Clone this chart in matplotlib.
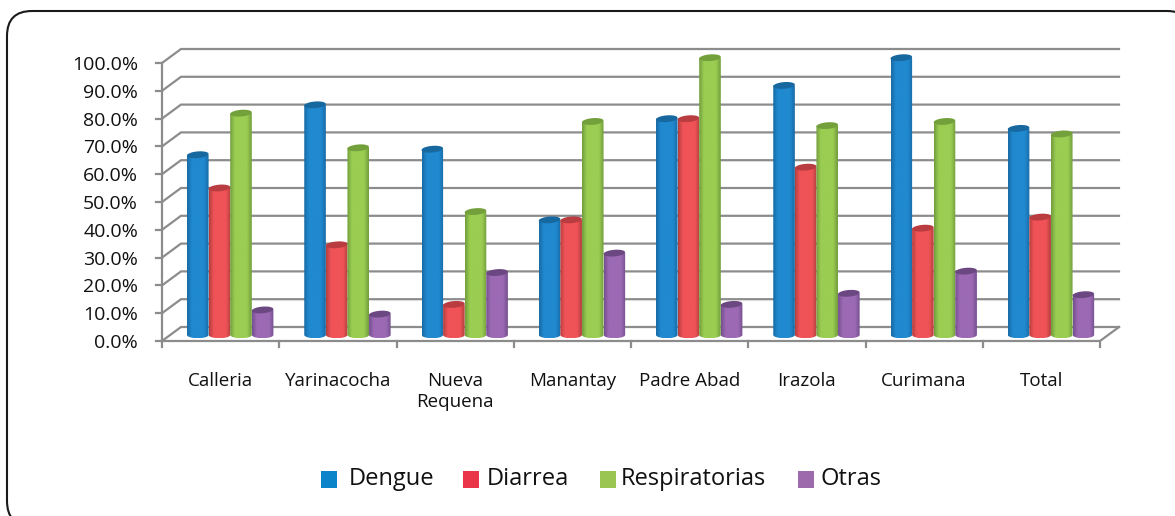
import numpy as np  # For the gradients and the ellipse outlines.
import matplotlib
matplotlib.use("Agg")
import matplotlib.pyplot as plt  # For creating plots.
from matplotlib.colors import LinearSegmentedColormap
from matplotlib.patches import FancyBboxPatch, PathPatch, Polygon, Rectangle
from matplotlib.path import Path

plt.rcParams['font.family'] = ['Open Sans', 'DejaVu Sans']

# --------------------
# Values.
categories = ['Calleria', 'Yarinacocha', 'Nueva\nRequena', 'Manantay',
              'Padre Abad', 'Irazola', 'Curimana', 'Total']
dengue = [65.0, 83.0, 67.0, 41.5, 78.0, 90.0, 100.0, 74.5]
diarrea = [53.0, 32.5, 11.0, 41.5, 78.0, 60.5, 38.5, 42.5]
respiratorias = [80.0, 67.5, 44.5, 77.0, 100.0, 75.5, 77.0, 72.5]
otras = [9.0, 7.5, 22.5, 29.5, 11.0, 15.0, 23.0, 14.5]
series_names = ['Dengue', 'Diarrea', 'Respiratorias', 'Otras']
y_ticks = [0, 10, 20, 30, 40, 50, 60, 70, 80, 90, 100]

# Mid colour, dark edge and top cap of each series.
colors = ['#2089cf', '#f05357', '#9acd52', '#9c6ab4']
dark_colors = ['#186ca6', '#b5403f', '#739d3d', '#765090']
cap_colors = ['#17689f', '#b83c40', '#74a03c', '#6c4882']
legend_colors = ['#0b84c9', '#ea3448', '#9bc552', '#9d6aab']

GRID = '#8c8c8c'
# Fake 3D depth of the chart box, in data units.
DEPTH_X = 19 / 117.25
DEPTH_Y = 14 / 2.78
BASE_Y = 2.2     # bars stand in the middle of the floor
BAR_W = 21.6 / 117.25
GROUP_START = 25 / 117.25
CAP_H = 1.2      # half height of the top ellipse
CAP_TILT = 0.3   # the top ellipse rises a little to the right


# --------------------
def draw_box(ax):
    """Draw the grid walls, axis lines and ticks of the 3D box."""
    n = len(categories)
    for v in y_ticks:
        ax.plot([0, DEPTH_X, n + DEPTH_X], [v, v + DEPTH_Y, v + DEPTH_Y],
                color=GRID, lw=1.6, solid_joinstyle='miter', zorder=1, clip_on=False)
        ax.plot([-0.055, 0], [v, v], color=GRID, lw=1.6, zorder=1, clip_on=False)
    ax.plot([0, 0], [0, 100], color=GRID, lw=1.6, zorder=1, clip_on=False)
    # floor edges
    ax.plot([0, n, n + DEPTH_X], [0, 0, DEPTH_Y], color=GRID, lw=1.6,
            solid_joinstyle='miter', zorder=1, clip_on=False)
    for i in range(n + 1):
        ax.plot([i, i], [0, -2.2], color=GRID, lw=1.6, zorder=1, clip_on=False)


# --------------------
def draw_cylinder(ax, left, value, idx):
    """Draw one bar as a shaded cylinder, from the floor up to value."""
    right = left + BAR_W
    mid = left + BAR_W / 2
    top = BASE_Y + value * 0.997

    # Body outline: straight sides with a rounded bottom.
    t = np.linspace(np.pi, 2 * np.pi, 30)
    bx = mid + BAR_W / 2 * np.cos(t)
    by = BASE_Y + CAP_H * np.sin(t)
    verts = [(left, top)] + list(zip(bx, by)) + [(right, top), (left, top)]
    body = PathPatch(Path(verts), facecolor='none', edgecolor='none',
                     zorder=3 + idx, clip_on=False)
    ax.add_patch(body)

    cmap = LinearSegmentedColormap.from_list(
        'cyl', [(0, dark_colors[idx]), (0.22, colors[idx]), (0.78, colors[idx]),
                (1, dark_colors[idx])])
    grad = np.linspace(0, 1, 48)[np.newaxis, :]
    img = ax.imshow(grad, extent=[left, right, BASE_Y - CAP_H, top], cmap=cmap,
                    aspect='auto', interpolation='bilinear', zorder=3 + idx)
    img.set_clip_path(body)
    img.set_clip_box(ax.figure.bbox)  # the 100 % bars stick out above the axes

    # Top cap as a slightly tilted ellipse.
    a = np.linspace(0, 2 * np.pi, 40)
    cap_x = mid + BAR_W / 2 * np.cos(a)
    cap_y = top + CAP_H * np.sin(a) + CAP_TILT * np.cos(a)
    ax.add_patch(Polygon(np.column_stack([cap_x, cap_y]), closed=True,
                         facecolor=cap_colors[idx], edgecolor='none',
                         zorder=3 + idx, clip_on=False))


# --------------------
def main():
    fig = plt.figure(figsize=(11.75, 5.16), dpi=100)

    # Rounded frame, drawn in pixel coordinates of the whole figure.
    bg = fig.add_axes([0, 0, 1, 1])
    bg.set_xlim(0, 1175)
    bg.set_ylim(516, 0)
    bg.axis('off')
    bg.add_patch(FancyBboxPatch((32, 36), 1135, 465, boxstyle='round,pad=25,rounding_size=25',
                                facecolor='white', edgecolor='#1a1a1a', lw=1.5,
                                clip_on=True))

    # Chart axes: 0 to 8 categories on 162-1100 px, 0-100 % on 341-63 px.
    ax = fig.add_axes([162 / 1175, 1 - 341 / 516, 938 / 1175, 278 / 516])
    ax.patch.set_alpha(0)
    for s in ax.spines.values():
        s.set_visible(False)
    ax.set_xticks([])
    ax.set_yticks(y_ticks)
    ax.set_yticklabels([f'{v:.1f}%' for v in y_ticks], fontsize=14, color='#111111')
    ax.tick_params(axis='y', length=0, pad=24 / 1.39)

    draw_box(ax)

    all_series = [dengue, diarrea, respiratorias, otras]
    for i in range(len(categories)):
        for j, vals in enumerate(all_series):
            draw_cylinder(ax, i + GROUP_START + j * BAR_W, vals[i], j)
    ax.set_xlim(0, len(categories))
    ax.set_ylim(0, 100)
    ax.set_aspect('auto')

    # Category labels under the floor.
    for i, name in enumerate(categories):
        ax.text(i + 0.5, -11.0, name, ha='center', va='top', fontsize=13.5,
                color='#111111', linespacing=1.25, clip_on=False)

    # Legend, placed by hand like the original.
    legend_x = [321, 463, 600, 798]
    text_x = [349, 487, 621, 820]
    for x, tx, c, name in zip(legend_x, text_x, legend_colors, series_names):
        bg.add_patch(Rectangle((x, 471), 16, 17, facecolor=c, edgecolor='none'))
        bg.text(tx, 479, name, fontsize=17, va='center', ha='left', color='#111111')

    fig.savefig('out.png', dpi=100)


if __name__ == "__main__":
    main()
